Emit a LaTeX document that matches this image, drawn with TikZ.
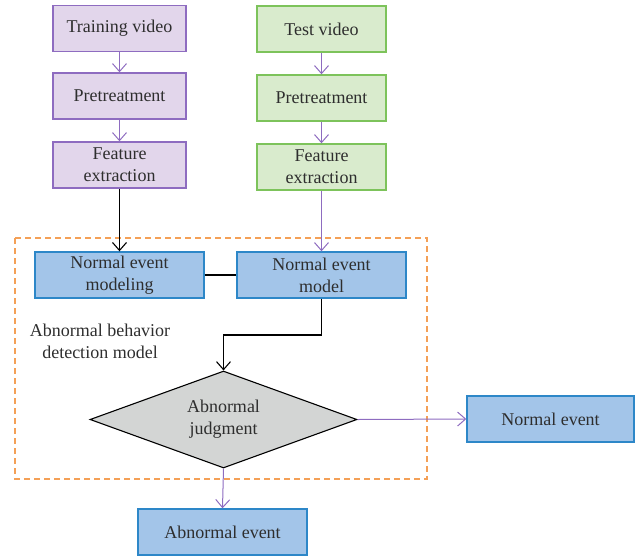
\documentclass[tikz,border=0pt]{standalone}
\usepackage{fontspec}
\setmainfont{Liberation Serif}
\usetikzlibrary{shapes.geometric,arrows.meta}
\definecolor{pfill}{HTML}{E2D6EB}
\definecolor{pdraw}{HTML}{8E6CC0}
\definecolor{gfill}{HTML}{D9EBCD}
\definecolor{gdraw}{HTML}{7DC35B}
\definecolor{bfill}{HTML}{A3C5E9}
\definecolor{bdraw}{HTML}{2D87C8}
\definecolor{dfill}{HTML}{D3D5D4}
\definecolor{ofr}{HTML}{F4A057}
\definecolor{txt}{HTML}{2E2E2E}
\definecolor{arr}{HTML}{8E6CC0}
\begin{document}
\begin{tikzpicture}[x=1pt,y=-1pt,
  every node/.style={font=\fontsize{18}{22}\selectfont, text=txt, align=center},
  box/.style={draw, line width=1.4pt, minimum width=133pt, minimum height=46pt, inner sep=0pt},
  pbox/.style={box, fill=pfill, draw=pdraw},
  gbox/.style={box, fill=gfill, draw=gdraw},
  bbox/.style={box, fill=bfill, draw=bdraw, minimum width=169pt, minimum height=46pt},
  parrow/.style={draw=arr, line width=1pt, -{Straight Barb[length=8pt,width=14pt]}},
  barrow/.style={draw=black, line width=1.1pt, -{Straight Barb[length=8pt,width=14pt]}},
]
\useasboundingbox (0,0) rectangle (638,558);
\draw[ofr, line width=1.4pt, dash pattern=on 6pt off 4pt] (15,238) rectangle (427,479);
\node[pbox] (tv) at (119.5,28.5) {Training video};
\node[pbox] (tp) at (119.5,96) {Pretreatment};
\node[pbox] (tf) at (119.5,165) {Feature\\extraction};
\node[gbox, minimum width=129pt] (sv) at (321.5,29) {Test video};
\node[gbox, minimum width=129pt] (sp) at (321.5,98) {Pretreatment};
\node[gbox, minimum width=129pt] (sf) at (321.5,167) {Feature\\extraction};
\node[bbox] (nm) at (119.5,275) {Normal event\\modeling};
\node[bbox] (nd) at (321.5,275) {Normal event\\model};
\node[diamond, draw=black, line width=1.1pt, fill=dfill, minimum width=267pt, minimum height=97pt, aspect=2.75, inner sep=0pt] (aj) at (223.5,419.5) {Abnormal\\judgment};
\node[bbox, minimum width=167pt] (ne) at (550.5,419) {Normal event};
\node[bbox] (ae) at (222.5,532) {Abnormal event};
\node[align=center] (lab) at (100,341) {Abnormal behavior\\detection model};
\draw[parrow] (tv) -- (tp);
\draw[parrow] (tp) -- (tf);
\draw[parrow] (sv) -- (sp);
\draw[parrow] (sp) -- (sf);
\draw[barrow] (tf) -- (nm);
\draw[parrow] (sf) -- (nd);
\draw[black, line width=1.1pt] (nm) -- (nd);
\draw[barrow] (nd.south) |- (223.5,335) -- (aj.north);
\draw[parrow] (aj.east) -- (ne.west);
\draw[parrow] (aj.south) -- (ae.north);
\end{tikzpicture}
\end{document}
